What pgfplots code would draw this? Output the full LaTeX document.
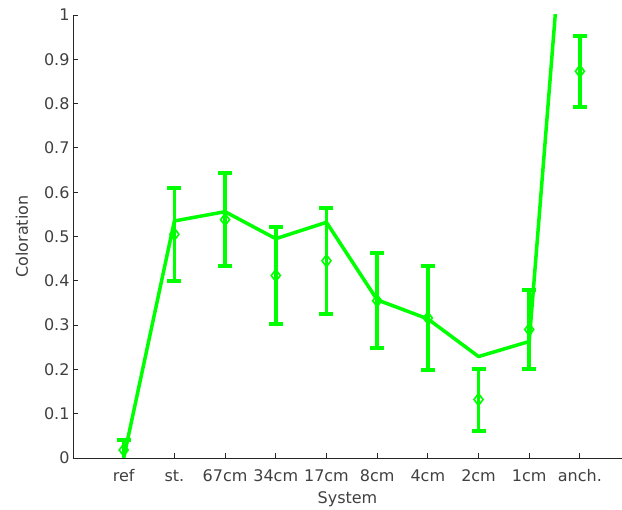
\documentclass[border=0pt]{standalone}
\usepackage{pgfplots}
\pgfplotsset{compat=1.18}
\usepackage{fontspec}
\setmainfont{DejaVu Sans}
\definecolor{axgray}{rgb}{0.15,0.15,0.15}
\definecolor{txtgray}{rgb}{0.25,0.25,0.25}
\definecolor{mgreen}{rgb}{0,1,0}
\begin{document}
\begin{tikzpicture}
\begin{axis}[
 scale only axis, width=549pt, height=443pt,
 xmin=0, xmax=10.83, ymin=0, ymax=1,
 axis x line=bottom, axis y line=left,
 axis line style={-, axgray, line width=0.9pt},
 xtick={1,2,3,4,5,6,7,8,9,10},
 xticklabels={ref,st.,67cm,34cm,17cm,8cm,4cm,2cm,1cm,anch.},
 ytick={0,0.1,0.2,0.3,0.4,0.5,0.6,0.7,0.8,0.9,1},
 yticklabels={0,0.1,0.2,0.3,0.4,0.5,0.6,0.7,0.8,0.9,1},
 tick align=inside, major tick length=5pt,
 tick style={axgray, line width=0.9pt},
 font=\fontsize{16}{19}\selectfont,
 ticklabel style={text=txtgray},
 xticklabel style={yshift=-8pt, text height=12pt, text depth=0pt},
 /pgf/number format/assume math mode=true,
 xlabel={System}, ylabel={Coloration},
 label style={text=txtgray},
 ylabel style={at={(axis description cs:-0.093,0.5)}, anchor=center},
 xlabel style={at={(axis description cs:0.5,-0.094)}, anchor=center},
]
\addplot[mgreen, line width=3.5pt, line join=round] coordinates {
 (1,0.0) (2,0.535) (3,0.556) (4,0.495) (5,0.532) (6,0.357) (7,0.314) (8,0.229) (9,0.263) (10,1.7)
};
\addplot[mgreen, only marks, mark=diamond, mark size=6pt,
 mark options={line width=1.6pt, fill=none, solid},
 error bars/.cd, y dir=both, y explicit,
 error bar style={line width=3.5pt, mgreen},
 error mark options={mgreen, line width=4pt, mark size=7pt, rotate=90}] coordinates {
 (1,0.018) +- (0,0.022)
 (2,0.505) +- (0,0.105)
 (3,0.538) +- (0,0.105)
 (4,0.412) +- (0,0.110)
 (5,0.445) +- (0,0.120)
 (6,0.355) +- (0,0.107)
 (7,0.316) +- (0,0.117)
 (8,0.132) +- (0,0.070)
 (9,0.290) +- (0,0.089)
 (10,0.873) +- (0,0.080)
};
\end{axis}
\pgfresetboundingbox
\path ([xshift=-73pt,yshift=-52pt]current axis.south west) rectangle ([yshift=15pt]current axis.north east);
\end{tikzpicture}
\end{document}
